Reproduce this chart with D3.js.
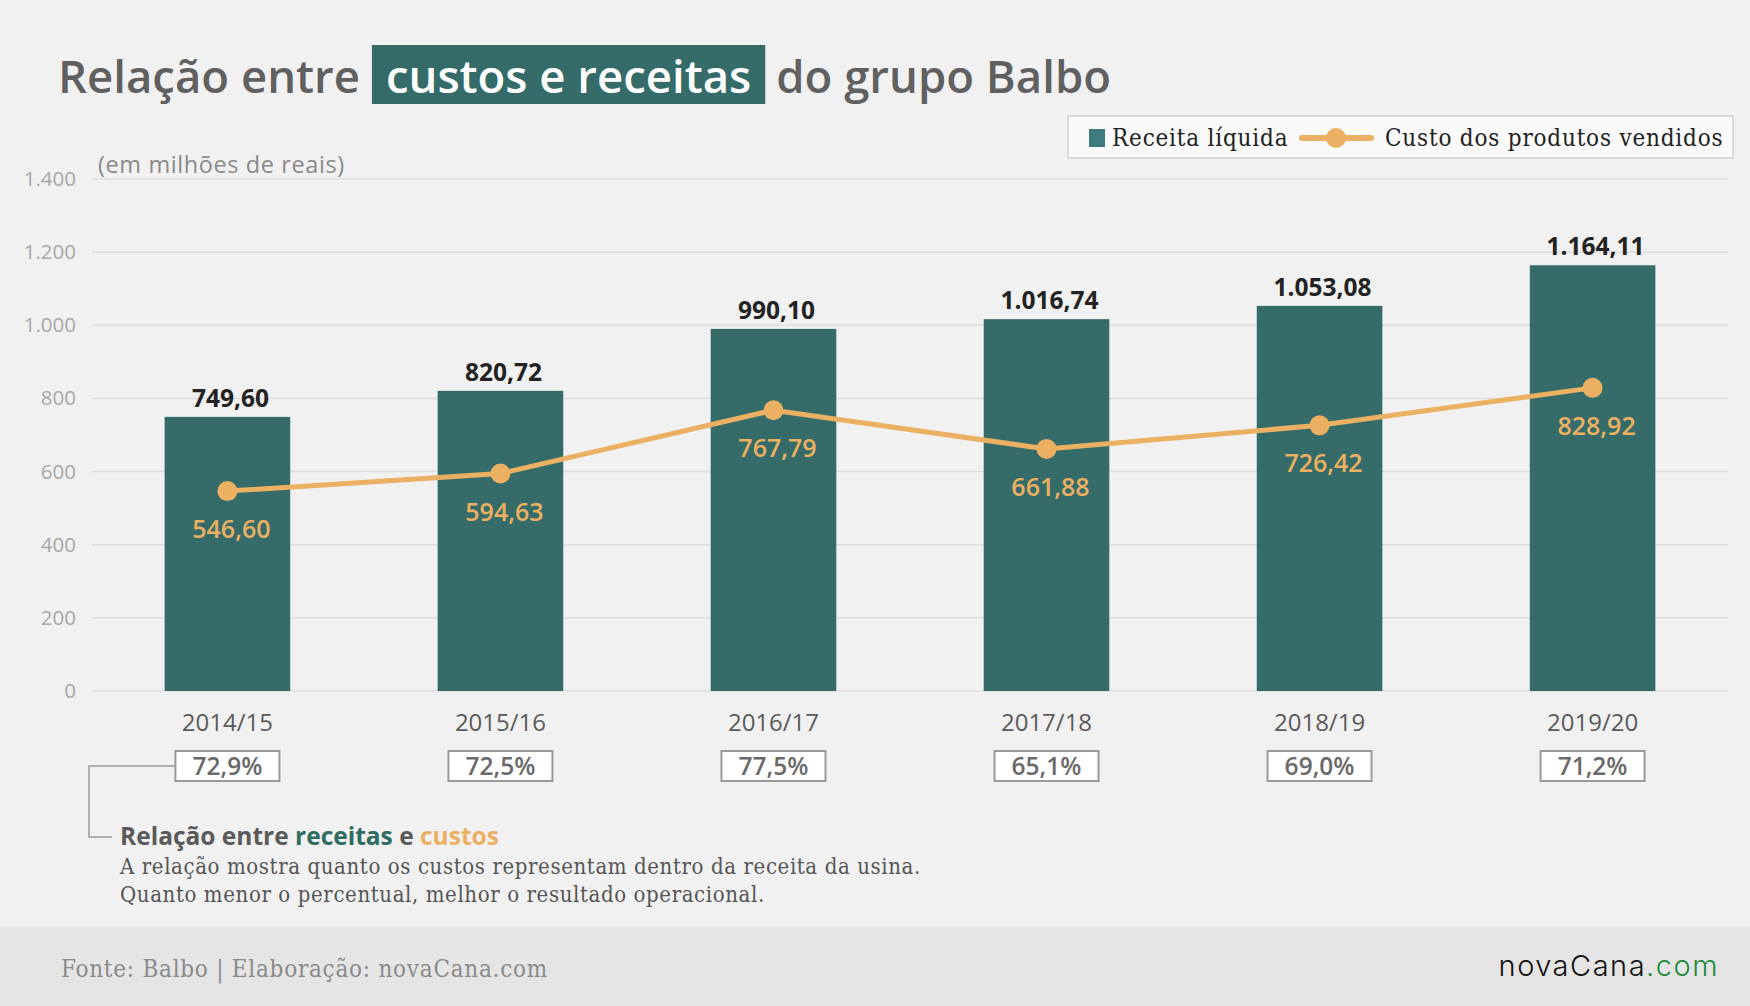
<!DOCTYPE html>
<html lang="pt-BR">
<head>
  <meta charset="UTF-8">
  <title>Relação entre custos e receitas do grupo Balbo</title>
  <script src="https://d3js.org/d3.v7.min.js"></script>
  <style>
    html, body { margin: 0; padding: 0; background: #f1f1f1; }
    svg { display: block; }
    .sans { font-family: "Open Sans", "Noto Sans", sans-serif; }
    .slab { font-family: "DejaVu Serif", serif; font-stretch: condensed; }
  </style>
</head>
<body>
  <div id="chart"></div>

  <script>
    // dados (em milhões de reais)
    const safras = ["2014/15", "2015/16", "2016/17", "2017/18", "2018/19", "2019/20"];
    const receita = [749.60, 820.72, 990.10, 1016.74, 1053.08, 1164.11];
    const custos = [546.60, 594.63, 767.79, 661.88, 726.42, 828.92];
    const relacao = ["72,9%", "72,5%", "77,5%", "65,1%", "69,0%", "71,2%"];
    const yTicks = [0, 200, 400, 600, 800, 1000, 1200, 1400];

    const width = 1750, height = 1006;
    const teal = "#356c69", orange = "#ebb061";

    const fmt = d3.formatLocale({ decimal: ",", thousands: ".", grouping: [3], currency: ["R$", ""] });
    const fmtVal = fmt.format(",.2f");
    const fmtTick = fmt.format(",d");

    const svg = d3.select("#chart").append("svg")
      .attr("width", width)
      .attr("height", height);

    svg.append("rect").attr("width", width).attr("height", height).attr("fill", "#f1f1f1");

    // título
    const title = svg.append("g").attr("class", "sans");
    const t1 = title.append("text")
      .attr("x", 58).attr("y", 93)
      .attr("font-size", 45.5).attr("font-weight", 600).attr("fill", "#606060")
      .text("Relação entre");
    const w1 = t1.node().getComputedTextLength();
    const boxX = 58 + w1 + 12;
    const t2 = title.append("text")
      .attr("x", boxX + 14).attr("y", 93)
      .attr("font-size", 45.5).attr("font-weight", 600).attr("fill", "#fff")
      .text("custos e receitas");
    const w2 = t2.node().getComputedTextLength();
    title.insert("rect", "text:nth-child(2)")
      .attr("x", boxX).attr("y", 45)
      .attr("width", w2 + 28).attr("height", 59)
      .attr("fill", teal);
    title.append("text")
      .attr("x", boxX + w2 + 28 + 11).attr("y", 93)
      .attr("font-size", 45.5).attr("font-weight", 600).attr("fill", "#606060")
      .text("do grupo Balbo");

    // legenda
    const leg = svg.append("g");
    leg.append("rect")
      .attr("x", 1068).attr("y", 116).attr("width", 665).attr("height", 42)
      .attr("fill", "#fafafa").attr("stroke", "#cfcfcf").attr("stroke-width", 1.5);
    leg.append("rect").attr("x", 1089).attr("y", 129).attr("width", 16).attr("height", 18).attr("fill", "#3f7a7e");
    leg.append("text").attr("class", "slab")
      .attr("x", 1112).attr("y", 146).attr("font-size", 24).attr("letter-spacing", 0.8).attr("fill", "#222")
      .text("Receita líquida");
    leg.append("line").attr("x1", 1302).attr("x2", 1371).attr("y1", 138).attr("y2", 138)
      .attr("stroke", orange).attr("stroke-width", 6).attr("stroke-linecap", "round");
    leg.append("circle").attr("cx", 1336).attr("cy", 138).attr("r", 10).attr("fill", orange);
    leg.append("text").attr("class", "slab")
      .attr("x", 1385).attr("y", 146).attr("font-size", 24).attr("letter-spacing", 0.8).attr("fill", "#222")
      .text("Custo dos produtos vendidos");

    // escalas
    const x = d3.scaleBand().domain(safras).range([92, 1728]).paddingInner(0.54).paddingOuter(0.266);
    const y = d3.scaleLinear().domain([0, 1400]).range([691, 179]);

    // grade e eixo y
    svg.append("g").selectAll("line").data(yTicks).join("line")
      .attr("x1", 92).attr("x2", 1728)
      .attr("y1", d => y(d)).attr("y2", d => y(d))
      .attr("stroke", "#dedede").attr("stroke-width", 1.5);

    svg.append("g").attr("class", "sans").selectAll("text").data(yTicks).join("text")
      .attr("x", 76).attr("y", d => y(d) + 7)
      .attr("text-anchor", "end").attr("font-size", 20.5).attr("fill", "#a8a8a8")
      .text(d => fmtTick(d));

    svg.append("text").attr("class", "sans")
      .attr("x", 98).attr("y", 173).attr("font-size", 23.5).attr("letter-spacing", 0.6).attr("fill", "#8a8a8a")
      .text("(em milhões de reais)");

    // barras
    svg.append("g").selectAll("rect").data(safras).join("rect")
      .attr("x", d => x(d)).attr("width", x.bandwidth())
      .attr("y", (d, i) => y(receita[i]))
      .attr("height", (d, i) => y(0) - y(receita[i]))
      .attr("fill", teal);

    svg.append("g").attr("class", "sans").selectAll("text").data(safras).join("text")
      .attr("x", d => x(d) + x.bandwidth() / 2 + 3)
      .attr("y", (d, i) => y(receita[i]) - 10)
      .attr("text-anchor", "middle").attr("font-size", 24.5).attr("font-weight", 700).attr("fill", "#222")
      .text((d, i) => fmtVal(receita[i]));

    // linha de custos
    const line = d3.line()
      .x((d, i) => x(safras[i]) + x.bandwidth() / 2)
      .y(d => y(d));
    svg.append("path").datum(custos)
      .attr("d", line).attr("fill", "none")
      .attr("stroke", orange).attr("stroke-width", 5);
    svg.append("g").selectAll("circle").data(custos).join("circle")
      .attr("cx", (d, i) => x(safras[i]) + x.bandwidth() / 2)
      .attr("cy", d => y(d)).attr("r", 10).attr("fill", orange);
    svg.append("g").attr("class", "sans").selectAll("text").data(custos).join("text")
      .attr("x", (d, i) => x(safras[i]) + x.bandwidth() / 2 + 4)
      .attr("y", d => y(d) + 47)
      .attr("text-anchor", "middle").attr("font-size", 25).attr("font-weight", 600).attr("fill", orange)
      .text(d => fmtVal(d));

    // eixo x
    svg.append("g").attr("class", "sans").selectAll("text").data(safras).join("text")
      .attr("x", d => x(d) + x.bandwidth() / 2)
      .attr("y", 731)
      .attr("text-anchor", "middle").attr("font-size", 24).attr("fill", "#5a5a5a")
      .text(d => d);

    // caixas de relação
    const boxes = svg.append("g").selectAll("g").data(safras).join("g")
      .attr("transform", d => `translate(${x(d) + x.bandwidth() / 2},0)`);
    boxes.append("rect")
      .attr("x", -52).attr("y", 751).attr("width", 104).attr("height", 30)
      .attr("fill", "#fff").attr("stroke", "#9a9a9a").attr("stroke-width", 2);
    boxes.append("text").attr("class", "sans")
      .attr("y", 775).attr("text-anchor", "middle")
      .attr("font-size", 24.5).attr("font-weight", 600).attr("fill", "#6a6a6a")
      .text((d, i) => relacao[i]);

    // chave explicativa
    const bx0 = x(safras[0]) + x.bandwidth() / 2 - 52;
    svg.append("path")
      .attr("d", `M${bx0},766 H89 V837 H112`)
      .attr("fill", "none").attr("stroke", "#9a9a9a").attr("stroke-width", 1.5);

    const note = svg.append("text").attr("class", "sans")
      .attr("x", 120).attr("y", 845).attr("font-size", 24.5).attr("font-weight", 700).attr("fill", "#5a5a5a");
    note.append("tspan").text("Relação entre ");
    note.append("tspan").attr("fill", "#2e6c62").text("receitas");
    note.append("tspan").text(" e ");
    note.append("tspan").attr("fill", orange).text("custos");

    svg.append("text").attr("class", "slab")
      .attr("x", 120).attr("y", 874).attr("font-size", 22).attr("letter-spacing", 0.6).attr("fill", "#555")
      .text("A relação mostra quanto os custos representam dentro da receita da usina.");
    svg.append("text").attr("class", "slab")
      .attr("x", 120).attr("y", 902).attr("font-size", 22).attr("letter-spacing", 0.6).attr("fill", "#555")
      .text("Quanto menor o percentual, melhor o resultado operacional.");

    // rodapé
    svg.append("rect").attr("x", 0).attr("y", 927).attr("width", width).attr("height", 79).attr("fill", "#e5e5e5");
    svg.append("text").attr("class", "slab")
      .attr("x", 61).attr("y", 977).attr("font-size", 24).attr("letter-spacing", 0.75).attr("fill", "#8a8a8a")
      .text("Fonte: Balbo | Elaboração: novaCana.com");
    const logo = svg.append("text")
      .attr("x", 1719).attr("y", 976).attr("text-anchor", "end")
      .attr("font-family", "Inter, sans-serif").attr("font-weight", 300)
      .attr("font-size", 29).attr("letter-spacing", 1.5).attr("fill", "#111");
    logo.append("tspan").text("novaCana");
    logo.append("tspan").attr("fill", "#1e8a3c").text(".com");
  </script>
</body>
</html>
